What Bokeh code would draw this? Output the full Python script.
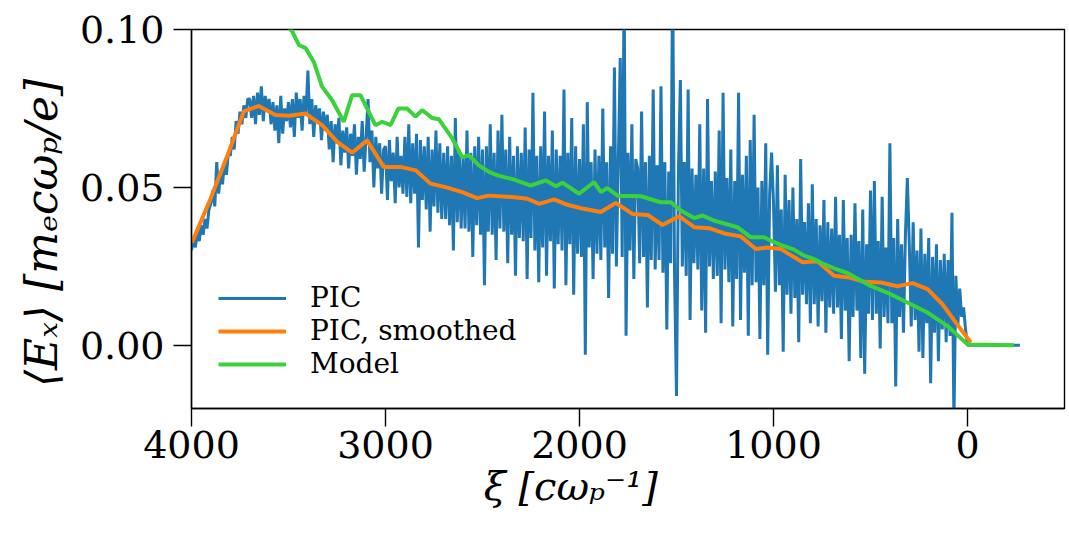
import numpy as np
from bokeh.plotting import figure
from bokeh.models import Range1d, FixedTicker, NumeralTickFormatter, Legend, LegendItem
from bokeh.embed import file_html
from bokeh.resources import INLINE

# ---- data ----
# PIC: sampled every 10 units of xi, starting at xi = 4000 and going down
pic_vals = [
    0.030, 0.034, 0.031, 0.036, 0.033, 0.038, 0.035, 0.040, 0.037, 0.043,
    0.045, 0.049, 0.044, 0.058, 0.048, 0.055, 0.051, 0.058, 0.054, 0.061,
    0.060, 0.066, 0.062, 0.071, 0.067, 0.074, 0.070, 0.076, 0.072, 0.078,
    0.078, 0.072, 0.079, 0.070, 0.080, 0.073, 0.082, 0.071, 0.079, 0.074,
    0.078, 0.070, 0.077, 0.068, 0.076, 0.064, 0.079, 0.067, 0.075, 0.071,
    0.077, 0.069, 0.078, 0.066, 0.080, 0.072, 0.078, 0.068, 0.079, 0.073,
    0.087, 0.070, 0.078, 0.066, 0.076, 0.071, 0.075, 0.065, 0.074, 0.068,
    0.073, 0.062, 0.071, 0.058, 0.070, 0.064, 0.072, 0.057, 0.068, 0.061,
    0.069, 0.056, 0.067, 0.060, 0.070, 0.054, 0.066, 0.059, 0.071, 0.055,
    0.066, 0.078, 0.058, 0.068, 0.050, 0.066, 0.056, 0.064, 0.048, 0.062,
    0.063, 0.046, 0.065, 0.052, 0.061, 0.045, 0.066, 0.050, 0.060, 0.048,
    0.066, 0.047, 0.070, 0.045, 0.064, 0.048, 0.067, 0.031, 0.065, 0.046,
    0.063, 0.043, 0.066, 0.036, 0.062, 0.044, 0.068, 0.042, 0.064, 0.040,
    0.061, 0.040, 0.063, 0.038, 0.060, 0.030, 0.072, 0.039, 0.062, 0.037,
    0.060, 0.037, 0.068, 0.036, 0.061, 0.028, 0.063, 0.038, 0.066, 0.035,
    0.062, 0.019, 0.063, 0.036, 0.070, 0.035, 0.061, 0.027, 0.068, 0.037,
    0.073, 0.036, 0.062, 0.026, 0.066, 0.035, 0.060, 0.022, 0.063, 0.034,
    0.061, 0.033, 0.069, 0.021, 0.062, 0.034, 0.080, 0.030, 0.060, 0.020,
    0.063, 0.031, 0.074, 0.022, 0.060, 0.033, 0.068, 0.018, 0.062, 0.032,
    0.060, 0.030, 0.081, 0.019, 0.061, 0.032, 0.072, 0.016, 0.063, 0.029,
    0.059, 0.028, 0.070, -0.003, 0.077, 0.031, 0.058, 0.021, 0.062, 0.029,
    0.060, 0.027, 0.075, 0.031, 0.058, 0.015, 0.063, 0.029, 0.088, 0.025,
    0.058, 0.091, 0.028, 0.115, 0.003, 0.061, 0.030, 0.070, 0.021, 0.059,
    0.056, 0.026, 0.074, 0.028, 0.058, 0.012, 0.060, 0.027, 0.081, 0.024,
    0.057, 0.027, 0.082, 0.023, 0.058, 0.005, 0.055, 0.026, 0.120, 0.022,
    -0.016, 0.055, 0.084, 0.025, 0.058, 0.022, 0.081, 0.008, 0.056, 0.026,
    0.054, 0.024, 0.070, 0.011, 0.056, 0.004, 0.078, 0.025, 0.052, 0.021,
    0.055, 0.022, 0.068, 0.007, 0.080, 0.024, 0.053, 0.020, 0.062, 0.006,
    0.052, 0.021, 0.080, 0.008, 0.054, 0.023, 0.060, 0.003, 0.065, 0.019,
    0.073, 0.020, 0.050, 0.002, 0.052, 0.019, 0.064, -0.003, 0.048, 0.061,
    0.045, 0.017, 0.057, 0.019, 0.043, -0.002, 0.054, 0.016, 0.046, 0.010,
    0.050, 0.015, 0.040, 0.001, 0.059, 0.016, 0.039, 0.013, 0.045, 0.007,
    0.051, 0.013, 0.040, 0.006, 0.038, 0.014, 0.046, 0.004, 0.039, 0.012,
    0.037, 0.010, 0.047, 0.012, 0.035, 0.002, 0.046, 0.011, 0.034, -0.005,
    0.035, 0.009, 0.045, 0.011, 0.033, -0.004, 0.043, -0.009, 0.032, 0.010,
    0.049, 0.008, 0.052, 0.010, 0.033, -0.001, 0.047, 0.009, 0.031, 0.007,
    0.064, 0.007, 0.034, -0.013, 0.040, 0.009, 0.032, 0.004, 0.035, 0.053,
    0.032, 0.006, 0.039, 0.008, 0.030, -0.002, 0.037, -0.004, 0.029, 0.007,
    0.034, -0.012, 0.028, 0.004, 0.032, -0.005, 0.027, 0.005, 0.029, 0.001,
    0.027, 0.003, 0.042, -0.025, 0.022, 0.006, 0.018, 0.009, 0.012, 0.005,
    0.000,
    0.0, 0.0, 0.0, 0.0, 0.0, 0.0, 0.0, 0.0, 0.0, 0.0,
    0.0, 0.0, 0.0, 0.0, 0.0, 0.0, 0.0, 0.0, 0.0, 0.0,
    0.0, 0.0, 0.0, 0.0, 0.0, 0.0, 0.0,
]
pic_start = 4000
pic_step = 10

smooth_xi = [3997, 3902, 3808, 3730, 3653, 3567, 3498, 3412, 3327, 3249, 3172, 3095,
             3009, 2923, 2845, 2768, 2691, 2605, 2528, 2467, 2337, 2268, 2208, 2131,
             2062, 1993, 1890, 1813, 1727, 1649, 1572, 1487, 1409, 1332, 1246, 1169,
             1091, 1031, 962, 928, 850, 773, 688, 610, 533, 447, 361, 283, 206, 129,
             60, -17]
smooth_E = [0.0326, 0.0464, 0.0612, 0.0741, 0.0758, 0.0729, 0.0727, 0.0734, 0.0697,
            0.0644, 0.0610, 0.0649, 0.0565, 0.0565, 0.0554, 0.0512, 0.0501, 0.0485,
            0.0466, 0.0474, 0.0469, 0.0464, 0.0448, 0.0462, 0.0445, 0.0434, 0.0422,
            0.0451, 0.0416, 0.0413, 0.0381, 0.0409, 0.0374, 0.0371, 0.0353, 0.0345,
            0.0305, 0.0310, 0.0305, 0.0292, 0.0263, 0.0266, 0.0220, 0.0215, 0.0201,
            0.0199, 0.0187, 0.0197, 0.0178, 0.0130, 0.0072, 0.0009]

model_xi = [3540, 3481, 3447, 3412, 3370, 3327, 3275, 3215, 3172, 3129, 3052, 3017,
            2974, 2933, 2889, 2845, 2811, 2760, 2725, 2656, 2605, 2570, 2519, 2467,
            2423, 2337, 2251, 2173, 2122, 2088, 2002, 1925, 1890, 1856, 1804, 1684,
            1581, 1529, 1478, 1409, 1366, 1306, 1186, 1117, 1049, 1012, 953, 894,
            842, 790, 739, 688, 619, 499, 396, 292, 206, 103, 0, -240]
model_E = [0.1040, 0.0994, 0.0951, 0.0941, 0.0898, 0.0819, 0.0776, 0.0708, 0.0792,
           0.0792, 0.0697, 0.0708, 0.0697, 0.0750, 0.0750, 0.0724, 0.0745, 0.0720,
           0.0716, 0.0655, 0.0596, 0.0602, 0.0570, 0.0549, 0.0538, 0.0525, 0.0506,
           0.0522, 0.0504, 0.0515, 0.0480, 0.0517, 0.0485, 0.0498, 0.0474, 0.0472,
           0.0453, 0.0453, 0.0427, 0.0403, 0.0411, 0.0395, 0.0374, 0.0342, 0.0342,
           0.0331, 0.0316, 0.0303, 0.0284, 0.0273, 0.0257, 0.0244, 0.0229, 0.0188,
           0.0162, 0.0130, 0.0104, 0.0061, 0.0003, 0.0]

x_ticks = [4000, 3000, 2000, 1000, 0]
y_ticks = [0.0, 0.05, 0.10]
series_names = ["PIC", "PIC, smoothed", "Model"]
x_label = "ξ [cωₚ⁻¹]"
y_label = "⟨Eₓ⟩ [mₑcωₚ/e]"

pic_xi = pic_start - pic_step * np.arange(len(pic_vals))

FONT = "DejaVu Serif"

p = figure(width=1066, height=530,
           x_range=Range1d(4000, -500), y_range=Range1d(-0.02, 0.10),
           output_backend="svg", toolbar_location=None,
           min_border_left=191, min_border_right=2,
           min_border_top=29, min_border_bottom=122)

r_pic = p.line(pic_xi, pic_vals, line_color="#1f77b4", line_width=3)
r_smooth = p.line(smooth_xi, smooth_E, line_color="#ff7f0e", line_width=4)
r_model = p.line(model_xi, model_E, line_color="#3ad13a", line_width=4)

p.xgrid.visible = False
p.ygrid.visible = False
p.outline_line_color = "black"
p.outline_line_width = 1.4
p.outline_line_alpha = 1.0
p.background_fill_color = "white"
p.border_fill_color = "white"

for ax in (p.xaxis[0], p.yaxis[0]):
    ax.axis_line_color = "black"
    ax.axis_line_width = 1.4
    ax.major_tick_line_color = "black"
    ax.major_tick_line_width = 1.4
    ax.major_tick_in = 0
    ax.major_tick_out = 18
    ax.minor_tick_line_color = None
    ax.major_label_text_font = FONT
    ax.major_label_text_font_size = "38px"
    ax.major_label_text_color = "black"

p.xaxis[0].ticker = FixedTicker(ticks=x_ticks)
p.yaxis[0].ticker = FixedTicker(ticks=y_ticks)
p.yaxis[0].formatter = NumeralTickFormatter(format="0.00")
p.xaxis[0].major_label_standoff = 4
p.yaxis[0].major_label_standoff = 9

# trailing no-break spaces move the centred labels, as in the reference
p.xaxis[0].axis_label = x_label + "\u00a0" * 9
p.xaxis[0].axis_label_text_font = FONT
p.xaxis[0].axis_label_text_font_style = "italic"
p.xaxis[0].axis_label_text_font_size = "40px"
p.xaxis[0].axis_label_text_color = "black"
p.xaxis[0].axis_label_standoff = 2

p.yaxis[0].axis_label = y_label + "\u00a0" * 2
p.yaxis[0].axis_label_text_font = FONT
p.yaxis[0].axis_label_text_font_style = "italic"
p.yaxis[0].axis_label_text_font_size = "44px"
p.yaxis[0].axis_label_text_color = "black"
p.yaxis[0].axis_label_standoff = 10

# one legend box per entry, so the rows can sit close together as in the reference
row_offsets = [94, 61, 28]
for name, rend, yoff in zip(series_names, [r_pic, r_smooth, r_model], row_offsets):
    lg = Legend(items=[LegendItem(label=name, renderers=[rend])], location=(27, yoff))
    lg.label_text_font = FONT
    lg.label_text_font_size = "28px"
    lg.label_text_color = "black"
    lg.glyph_width = 68
    lg.glyph_height = 20
    lg.label_standoff = 24
    lg.padding = 0
    lg.margin = 0
    lg.border_line_color = None
    lg.background_fill_alpha = 0
    p.add_layout(lg)

open("out.html", "w").write(file_html(p, INLINE))
